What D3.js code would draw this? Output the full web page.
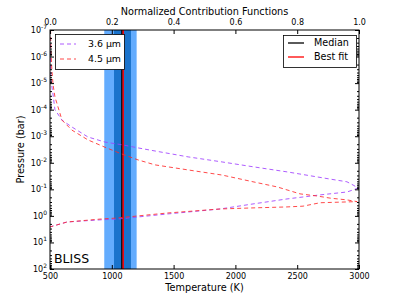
<!DOCTYPE html>
<html><head><meta charset="utf-8">
<script src="https://cdnjs.cloudflare.com/ajax/libs/d3/7.8.5/d3.min.js"></script>
<style>body{margin:0;background:#fff}svg{display:block}text{font-family:"DejaVu Sans",sans-serif}</style>
</head><body><div id="c"></div>
<script>
const tempTicks = [500, 1000, 1500, 2000, 2500, 3000];
const cfTicks = [0.0, 0.2, 0.4, 0.6, 0.8, 1.0];
const pressureExps = [-7, -6, -5, -4, -3, -2, -1, 0, 1, 2];
const bandOuter = [939, 1201];
const bandInner = [1018, 1155];
const medianT = 1082;
const bestFitT = 1092;
const cf36Val = [0.0, 0.003, 0.01, 0.016, 0.039, 0.071, 0.123, 0.178, 0.233, 0.285, 0.340, 0.447, 0.557, 0.663, 0.767, 0.906, 0.961, 0.981, 0.997, 0.981, 0.961, 0.874, 0.767, 0.657, 0.550, 0.379, 0.217, 0.162, 0.055, 0.0];
const cf36P = [1e-7, 7.6e-6, 2.8e-5, 1.0e-4, 2.5e-4, 4.5e-4, 1.07e-3, 1.66e-3, 2.1e-3, 2.75e-3, 3.6e-3, 6.0e-3, 9.3e-3, 1.45e-2, 2.2e-2, 4.1e-2, 5.2e-2, 6.9e-2, 8.9e-2, 0.105, 0.126, 0.162, 0.23, 0.355, 0.55, 0.85, 1.32, 1.41, 1.7, 2.6];
const cf45Val = [0.002, 0.003, 0.006, 0.01, 0.016, 0.039, 0.071, 0.123, 0.178, 0.233, 0.285, 0.340, 0.447, 0.557, 0.657, 0.735, 0.767, 0.809, 0.864, 0.906, 0.961, 0.994, 0.874, 0.819, 0.767, 0.657, 0.550, 0.379, 0.217, 0.162, 0.055, 0.0];
const cf45P = [1e-7, 5.6e-7, 3.2e-6, 1.17e-5, 3.3e-5, 2.5e-4, 5.9e-4, 1.38e-3, 2.6e-3, 4.7e-3, 7.8e-3, 1.2e-2, 1.86e-2, 2.9e-2, 5.2e-2, 8.1e-2, 0.105, 0.148, 0.178, 0.214, 0.25, 0.29, 0.32, 0.43, 0.46, 0.5, 0.55, 0.78, 1.2, 1.32, 1.7, 2.6];

const W = 399, H = 299;
const L = 50, R = 359, T = 30, B = 269;
const svg = d3.select('#c').append('svg').attr('width', W).attr('height', H);
const x = d3.scaleLinear().domain([500, 3000]).range([L, R]);
const x2 = d3.scaleLinear().domain([0, 1]).range([L, R]);
const y = d3.scaleLog().domain([1e-7, 1e2]).range([T, B]);

svg.append('defs').append('clipPath').attr('id', 'clip').append('rect')
  .attr('x', L).attr('y', T).attr('width', R - L).attr('height', B - T);

// bands
svg.append('rect').attr('x', x(bandOuter[0])).attr('y', T).attr('width', x(bandOuter[1]) - x(bandOuter[0])).attr('height', B - T).attr('fill', '#63acfe');
svg.append('rect').attr('x', x(bandInner[0])).attr('y', T).attr('width', x(bandInner[1]) - x(bandInner[0])).attr('height', B - T).attr('fill', '#1a73cc');
svg.append('line').attr('x1', x(medianT)).attr('x2', x(medianT)).attr('y1', T).attr('y2', B).attr('stroke', '#000').attr('stroke-width', 1.5);
svg.append('line').attr('x1', x(bestFitT)).attr('x2', x(bestFitT)).attr('y1', T).attr('y2', B).attr('stroke', '#ff0000').attr('stroke-width', 1.5);

const g = svg.append('g').attr('clip-path', 'url(#clip)');
const line = d3.line().x(d => x2(d[0])).y(d => y(d[1]));
g.append('path').datum(cf36Val.map((v, i) => [v, cf36P[i]])).attr('d', line)
  .attr('fill', 'none').attr('stroke', '#9f3fff').attr('stroke-width', 1).attr('stroke-dasharray', '4,3').attr('opacity', 0.85);
g.append('path').datum(cf45Val.map((v, i) => [v, cf45P[i]])).attr('d', line)
  .attr('fill', 'none').attr('stroke', '#ff2a2a').attr('stroke-width', 1).attr('stroke-dasharray', '4,3').attr('opacity', 0.85);

// frame
svg.append('rect').attr('x', L).attr('y', T).attr('width', R - L).attr('height', B - T).attr('fill', 'none').attr('stroke', '#000').attr('stroke-width', 1);

// bottom axis
const bx = svg.append('g').attr('transform', `translate(0,${B})`)
  .call(d3.axisBottom(x).tickValues(tempTicks).tickSize(-4).tickPadding(4).tickFormat(d3.format('d')));
// top axis
const tx = svg.append('g').attr('transform', `translate(0,${T})`)
  .call(d3.axisTop(x2).tickValues(cfTicks).tickSize(-4).tickPadding(5).tickFormat(d3.format('.1f')));
[bx, tx].forEach(a => { a.select('.domain').remove(); a.selectAll('text').attr('font-size', 8).attr('font-family', 'DejaVu Sans').attr('fill', '#000'); a.selectAll('line').attr('stroke', '#000'); });

// log ticks left/right
const majors = pressureExps.map(e => Math.pow(10, e));
const minors = [];
pressureExps.slice(0, -1).forEach(e => { for (let k = 2; k <= 9; k++) minors.push(k * Math.pow(10, e)); });
const yl = svg.append('g').attr('transform', `translate(${L},0)`)
  .call(d3.axisLeft(y).tickValues(majors).tickSize(-4).tickPadding(4).tickFormat(''));
const yl2 = svg.append('g').attr('transform', `translate(${L},0)`)
  .call(d3.axisLeft(y).tickValues(minors).tickSize(-2).tickFormat(''));
const yr = svg.append('g').attr('transform', `translate(${R},0)`)
  .call(d3.axisRight(y).tickValues(majors).tickSize(-4).tickFormat(''));
const yr2 = svg.append('g').attr('transform', `translate(${R},0)`)
  .call(d3.axisRight(y).tickValues(minors).tickSize(-2).tickFormat(''));
[yl, yl2, yr, yr2].forEach(a => { a.select('.domain').remove(); a.selectAll('line').attr('stroke', '#000'); });

// y labels with superscript
pressureExps.forEach(e => {
  const t = svg.append('text').attr('x', L - 3).attr('y', y(Math.pow(10, e)) + 3).attr('text-anchor', 'end').attr('font-size', 8);
  t.append('tspan').text('10');
  t.append('tspan').attr('dy', -4).attr('font-size', 6).text(e < 0 ? '-' + Math.abs(e) : String(e));
});

// titles
svg.append('text').attr('x', (L + R) / 2).attr('y', 14.5).attr('text-anchor', 'middle').attr('font-size', 9.7).text('Normalized Contribution Functions');
svg.append('text').attr('x', (L + R) / 2).attr('y', 291).attr('text-anchor', 'middle').attr('font-size', 9.7).text('Temperature (K)');
svg.append('text').attr('transform', `translate(24,${(T + B) / 2}) rotate(-90)`).attr('text-anchor', 'middle').attr('font-size', 9.7).text('Pressure (bar)');
svg.append('text').attr('x', 54).attr('y', 263).attr('font-size', 12.5).text('BLISS');

// legend left
const lg1 = svg.append('g');
lg1.append('rect').attr('x', 55.5).attr('y', 34.5).attr('width', 69).attr('height', 35).attr('fill', '#fff').attr('stroke', '#000').attr('stroke-width', 0.8);
[['3.6 µm', '#9f3fff', 44], ['4.5 µm', '#ff2a2a', 59]].forEach(([lab, col, yy]) => {
  lg1.append('line').attr('x1', 60).attr('x2', 76).attr('y1', yy).attr('y2', yy).attr('stroke', col).attr('stroke-dasharray', '4,3').attr('opacity', 0.85);
  lg1.append('text').attr('x', 88).attr('y', yy + 3).attr('font-size', 9.4).text(lab);
});
// legend right
const lg2 = svg.append('g');
lg2.append('rect').attr('x', 283.5).attr('y', 35.5).attr('width', 73).attr('height', 32).attr('fill', '#fff').attr('stroke', '#000').attr('stroke-width', 0.8);
[['Median', '#000', 43], ['Best fit', '#ff0000', 57]].forEach(([lab, col, yy]) => {
  lg2.append('line').attr('x1', 288).attr('x2', 304).attr('y1', yy).attr('y2', yy).attr('stroke', col).attr('stroke-width', 1.3);
  lg2.append('text').attr('x', 314).attr('y', yy + 3.3).attr('font-size', 9.6).text(lab);
});
</script></body></html>
